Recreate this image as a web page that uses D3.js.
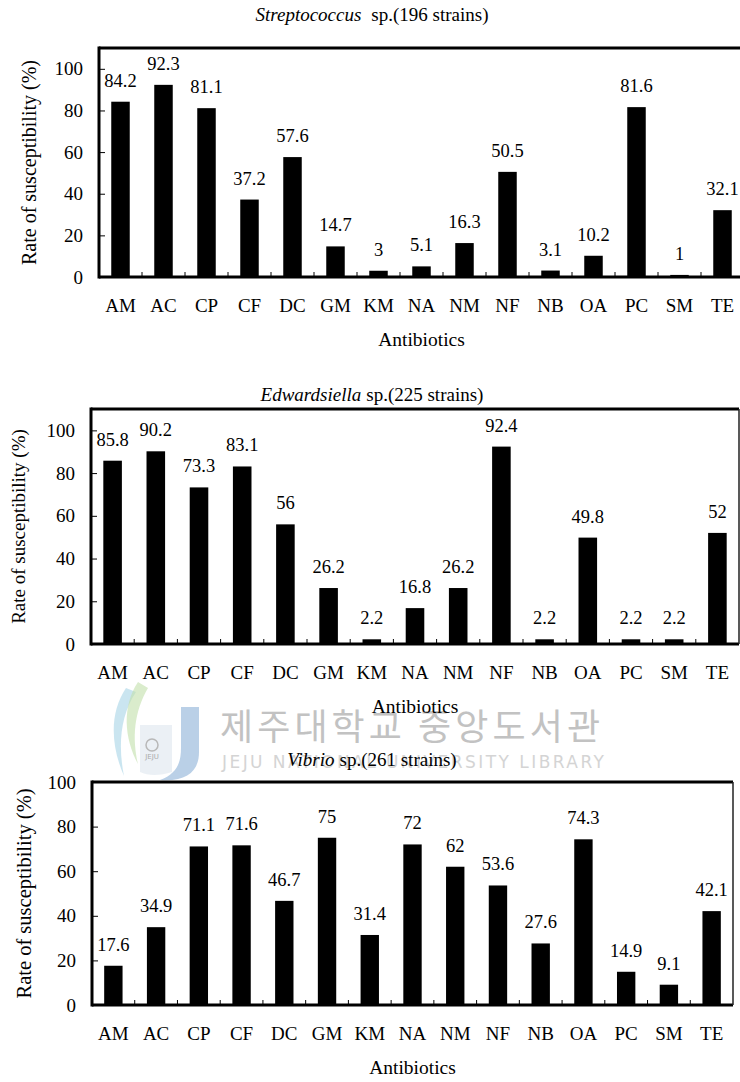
<!DOCTYPE html>
<html>
<head>
<meta charset="utf-8">
<script src="https://cdn.jsdelivr.net/npm/d3@7"></script>
<style>
  html, body { margin: 0; padding: 0; background: #fff; }
  svg { display: block; }
</style>
</head>
<body>
<svg id="chart" width="740" height="1082"></svg>
<script>
// Antibiotic codes along the x axis
const categories = ["AM","AC","CP","CF","DC","GM","KM","NA","NM","NF","NB","OA","PC","SM","TE"];

// Susceptibility rates (%) per genus
const streptococcusValues = [84.2,92.3,81.1,37.2,57.6,14.7,3,5.1,16.3,50.5,3.1,10.2,81.6,1,32.1];
const edwardsiellaValues  = [85.8,90.2,73.3,83.1,56,26.2,2.2,16.8,26.2,92.4,2.2,49.8,2.2,2.2,52];
const vibrioValues        = [17.6,34.9,71.1,71.6,46.7,75,31.4,72,62,53.6,27.6,74.3,14.9,9.1,42.1];

// Axis ticks and panel captions
const yTicks = [0,20,40,60,80,100];
const genusNames = ["Streptococcus","Edwardsiella","Vibrio"];
const strainNotes = ["sp.(196 strains)","sp.(225 strains)","sp.(261 strains)"];
const yAxisTitle = "Rate of susceptibility (%)";
const xAxisTitle = "Antibiotics";

const seriesList = [streptococcusValues, edwardsiellaValues, vibrioValues];

const SERIF = "'Liberation Serif', 'Times New Roman', Times, serif";

// Geometry of each panel
const layout = [
  { left: 99, right: 744, top: 48,  bottom: 277,  yMax: 110, titleY: 21,  titleGap: 10, yLabelX: 29, yLabelSize: 20 },
  { left: 91, right: 739, top: 409, bottom: 644,  yMax: 110, titleY: 401, titleGap: 5,  yLabelX: 18, yLabelSize: 19 },
  { left: 92, right: 733, top: 782, bottom: 1005, yMax: 100, titleY: 766, titleGap: 5,  yLabelX: 24, yLabelSize: 20.5 }
];

const svg = d3.select("#chart");

// Library watermark, drawn faintly behind the charts
const wm = svg.append("g");
wm.append("path")
  .attr("d", "M126,688 C110,712 110,744 124,776 C118,746 120,716 136,692 Z")
  .attr("fill", "#a6d3e6").attr("opacity", 0.6);
wm.append("path")
  .attr("d", "M138,682 C122,706 124,738 138,764 C132,738 134,712 148,688 Z")
  .attr("fill", "#c2dfaa").attr("opacity", 0.6);
wm.append("path")
  .attr("d", "M140,725 L172,725 L172,772 C160,776 148,776 140,772 Z")
  .attr("fill", "#e6ecf2").attr("opacity", 0.8);
wm.append("path")
  .attr("d", "M181,707 L199,707 L199,752 C199,772 186,782 160,780 C176,774 181,764 181,748 Z")
  .attr("fill", "#a3c0df").attr("opacity", 0.75);
wm.append("circle").attr("cx", 152).attr("cy", 745).attr("r", 6).attr("fill", "none")
  .attr("stroke", "#b8b8b8").attr("stroke-width", 1.5);
wm.append("text").attr("x", 152).attr("y", 759).attr("text-anchor", "middle")
  .style("font-family", "'DejaVu Sans', sans-serif").style("font-size", "7px").style("fill", "#aaa")
  .text("JEJU");
wm.append("text").attr("x", 220).attr("y", 740)
  .attr("textLength", 380).attr("lengthAdjust", "spacing")
  .style("font-family", "'Noto Sans CJK KR', sans-serif").style("font-size", "36px").style("fill", "#c2c2c2")
  .text("제주대학교 중앙도서관");
wm.append("text").attr("x", 222).attr("y", 768)
  .attr("textLength", 382).attr("lengthAdjust", "spacing")
  .style("font-family", "'DejaVu Sans', sans-serif").style("font-size", "17px").style("fill", "#d4d4d4")
  .text("JEJU NATIONAL UNIVERSITY LIBRARY");

seriesList.forEach((values, i) => {
  const L = layout[i];
  const g = svg.append("g");

  const x = d3.scaleBand()
    .domain(categories)
    .range([L.left, L.right])
    .paddingInner(0.57)
    .paddingOuter(0.285);

  const y = d3.scaleLinear()
    .domain([0, L.yMax])
    .range([L.bottom, L.top]);

  // Bars
  g.selectAll("rect.bar")
    .data(values)
    .join("rect")
    .attr("class", "bar")
    .attr("x", (d, j) => x(categories[j]))
    .attr("width", x.bandwidth())
    .attr("y", d => y(d))
    .attr("height", d => y(0) - y(d))
    .attr("fill", "#000");

  // Value labels above bars
  g.selectAll("text.val")
    .data(values)
    .join("text")
    .attr("class", "val")
    .attr("x", (d, j) => x(categories[j]) + x.bandwidth() / 2)
    .attr("y", d => y(d) - 15)
    .attr("text-anchor", "middle")
    .style("font-family", SERIF)
    .style("font-size", "18.5px")
    .style("fill", "#000")
    .text(d => String(d));

  // Inward category separators on the baseline
  const step = x.step();
  g.selectAll("line.sep")
    .data(categories.slice(1))
    .join("line")
    .attr("class", "sep")
    .attr("x1", d => x(d) - step * 0.285)
    .attr("x2", d => x(d) - step * 0.285)
    .attr("y1", L.bottom)
    .attr("y2", L.bottom - 5)
    .attr("stroke", "#000")
    .attr("stroke-width", 1);

  // Y axis with inward ticks
  const yAxis = d3.axisLeft(y).tickValues(yTicks).tickSize(-6).tickPadding(16).tickFormat(d3.format("d"));
  const ya = g.append("g").attr("transform", `translate(${L.left},0)`).call(yAxis);
  ya.attr("font-family", null).attr("font-size", null);
  ya.select(".domain").remove();
  ya.selectAll("line").attr("stroke", "#000").attr("stroke-width", 1);
  ya.selectAll("text")
    .style("font-family", SERIF)
    .style("font-size", "19px").style("fill", "#000");

  // X axis labels
  const xAxis = d3.axisBottom(x).tickSize(0).tickPadding(22);
  const xa = g.append("g").attr("transform", `translate(0,${L.bottom})`).call(xAxis);
  xa.attr("font-family", null).attr("font-size", null);
  xa.select(".domain").remove();
  xa.selectAll("text")
    .style("font-family", SERIF)
    .style("font-size", "19px").style("fill", "#000");

  // Frame: heavy top, left and bottom, light right side
  g.append("line").attr("x1", L.left).attr("x2", L.right).attr("y1", L.top).attr("y2", L.top)
    .attr("stroke", "#000").attr("stroke-width", 3);
  g.append("line").attr("x1", L.left).attr("x2", L.right).attr("y1", L.bottom).attr("y2", L.bottom)
    .attr("stroke", "#000").attr("stroke-width", 3);
  g.append("line").attr("x1", L.left).attr("x2", L.left).attr("y1", L.top - 1.5).attr("y2", L.bottom + 1.5)
    .attr("stroke", "#000").attr("stroke-width", 3);
  g.append("line").attr("x1", L.right).attr("x2", L.right).attr("y1", L.top).attr("y2", L.bottom)
    .attr("stroke", "#222").attr("stroke-width", 1.5);

  // Axis titles
  g.append("text")
    .attr("transform", `translate(${L.yLabelX},${(L.top + L.bottom) / 2}) rotate(-90)`)
    .attr("text-anchor", "middle")
    .attr("dominant-baseline", "central")
    .style("font-family", SERIF)
    .style("font-size", L.yLabelSize + "px")
    .style("fill", "#000")
    .text(yAxisTitle);
  g.append("text")
    .attr("x", (L.left + L.right) / 2)
    .attr("y", L.bottom + 69)
    .attr("text-anchor", "middle")
    .style("font-family", SERIF)
    .style("font-size", "19.5px")
    .style("fill", "#000")
    .text(xAxisTitle);

  // Panel title: italic genus followed by strain count
  const t = g.append("text")
    .attr("x", 372)
    .attr("y", L.titleY)
    .attr("text-anchor", "middle")
    .style("font-family", SERIF)
    .style("font-size", "19px")
    .style("fill", "#000");
  t.append("tspan").style("font-style", "italic").text(genusNames[i]);
  t.append("tspan").attr("dx", L.titleGap).text(strainNotes[i]);
});
</script>
</body>
</html>
